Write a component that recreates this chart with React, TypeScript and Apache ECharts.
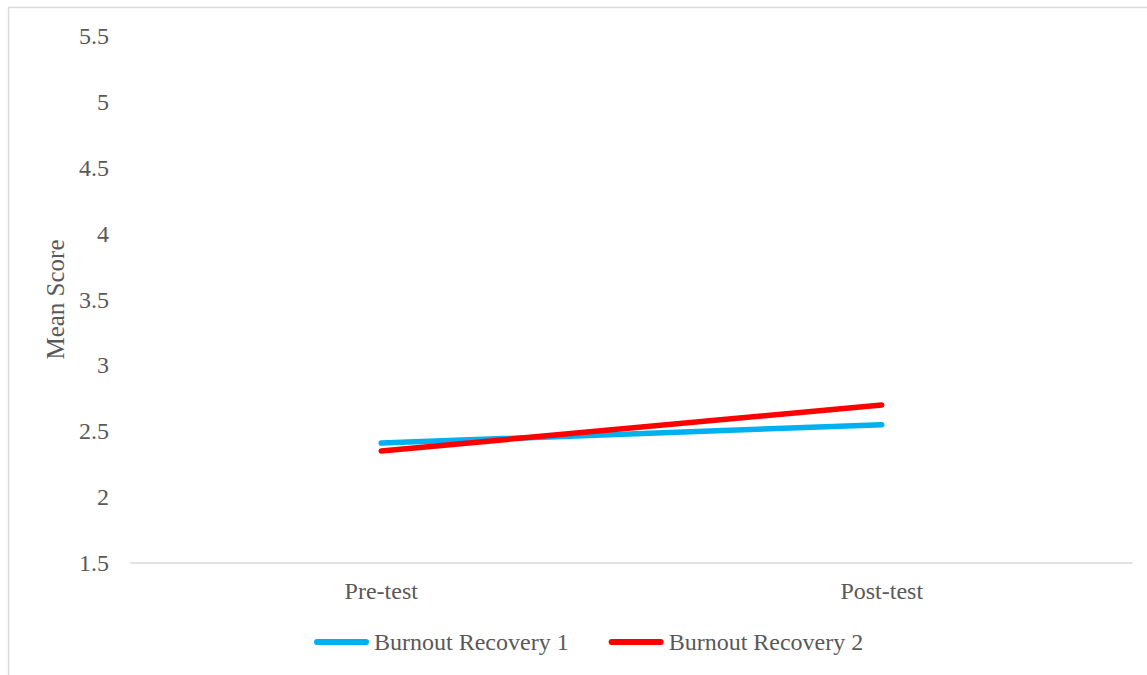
import React, { useEffect, useRef } from "react";
import * as echarts from "echarts";

// Measurement occasions on the x axis
const phases = ["Pre-test", "Post-test"];

// Mean scores per group
const recovery1 = [2.41, 2.55];
const recovery2 = [2.35, 2.7];

const seriesNames = ["Burnout Recovery 1", "Burnout Recovery 2"];
const seriesColors = ["#00B0F0", "#FF0000"];

const textColor = "#595959";
const fontFamily = "Liberation Serif";

// Thick rounded stroke used as the legend key
const legendKey = "path://M3,0 L52,0 A3,3 0 0 1 52,6 L3,6 A3,3 0 0 1 3,0 Z";

export default function App() {
  const ref = useRef<HTMLDivElement>(null);

  useEffect(() => {
    if (!ref.current) return;
    const chart = echarts.init(ref.current, undefined, { renderer: "svg" });
    chart.setOption({
      animation: false,
      backgroundColor: "#ffffff",
      textStyle: { fontFamily, color: textColor },
      graphic: [
        {
          type: "rect",
          shape: { x: 8.5, y: 7.5, width: 1200, height: 700 },
          style: { fill: "none", stroke: "#d9d9d9", lineWidth: 1.5 },
          silent: true,
        },
      ],
      grid: { left: 131, right: 15, top: 36, bottom: 112, containLabel: false },
      legend: {
        bottom: 16,
        left: 309,
        icon: legendKey,
        itemWidth: 55,
        itemHeight: 6,
        itemGap: 40,
        textStyle: { fontFamily, fontSize: 24, color: textColor, padding: [0, 0, 0, 0] },
        data: seriesNames.map((name, i) => ({
          name,
          icon: legendKey,
          itemStyle: { color: seriesColors[i] },
        })),
      },
      xAxis: {
        type: "category",
        data: phases,
        boundaryGap: true,
        axisLine: { show: true, lineStyle: { color: "#d9d9d9", width: 1.5 } },
        axisTick: { show: false },
        axisLabel: { fontFamily, fontSize: 24, color: textColor, margin: 16 },
        splitLine: { show: false },
      },
      yAxis: {
        type: "value",
        min: 1.5,
        max: 5.5,
        interval: 0.5,
        name: "Mean Score",
        nameLocation: "middle",
        nameGap: 63,
        nameRotate: 90,
        nameTextStyle: { fontFamily, fontSize: 25, color: textColor },
        axisLine: { show: false },
        axisTick: { show: false },
        splitLine: { show: false },
        axisLabel: { fontFamily, fontSize: 24, color: textColor, margin: 22 },
      },
      series: [
        {
          name: seriesNames[0],
          type: "line",
          data: recovery1,
          symbol: "none",
          color: seriesColors[0],
          lineStyle: { width: 5.5, color: seriesColors[0], cap: "round" },
        },
        {
          name: seriesNames[1],
          type: "line",
          data: recovery2,
          symbol: "none",
          color: seriesColors[1],
          lineStyle: { width: 5.5, color: seriesColors[1], cap: "round" },
        },
      ],
    });
    return () => chart.dispose();
  }, []);

  return (
    <div
      ref={ref}
      style={{ position: "fixed", left: 0, top: 0, width: 1147, height: 675 }}
    />
  );
}
